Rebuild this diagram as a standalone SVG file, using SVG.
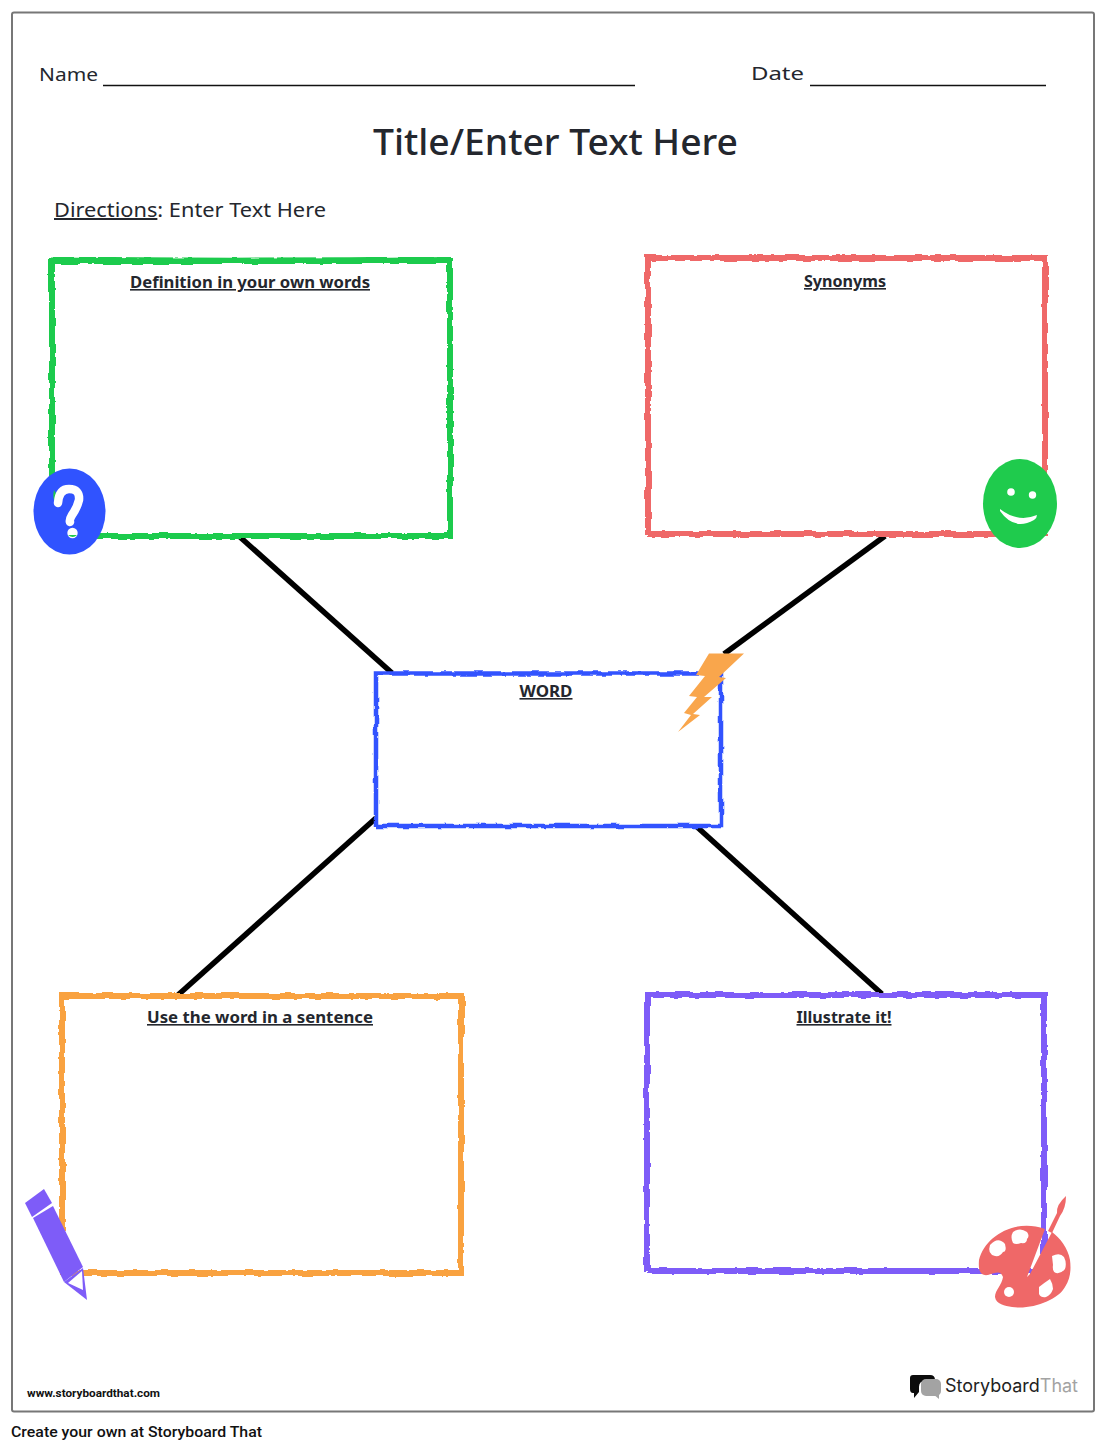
<svg xmlns="http://www.w3.org/2000/svg" width="1107" height="1450" viewBox="0 0 1107 1450">
<defs>
<style>
text{font-family:"Noto Sans","Liberation Sans",sans-serif;fill:#24272e}
.lab{font-size:16px;font-weight:700;text-anchor:middle;text-decoration:underline}
.box{fill:none;filter:url(#rough);stroke-linejoin:miter}
.conn{stroke:#000;stroke-width:5.500;fill:none}
.rule{stroke:#111;stroke-width:1.700}
</style>
<filter id="rough" x="-5%" y="-5%" width="110%" height="110%">
<feTurbulence type="fractalNoise" baseFrequency="0.07" numOctaves="3" seed="4"/>
<feDisplacementMap in="SourceGraphic" scale="4.500" xChannelSelector="R" yChannelSelector="G"/>
</filter>
</defs>
<rect width="1107" height="1450" fill="#fff"/>
<rect id="page" x="12" y="12.500" width="1082" height="1399" rx="2" fill="#fff" stroke="#777" stroke-width="2"/>
<g id="header">
<text x="39" y="81" font-size="18" textLength="59" lengthAdjust="spacingAndGlyphs">Name</text>
<line class="rule" x1="103" y1="85.500" x2="635" y2="85.500"/>
<text x="751" y="80" font-size="18" textLength="53" lengthAdjust="spacingAndGlyphs">Date</text>
<line class="rule" x1="810" y1="85.500" x2="1046" y2="85.500"/>
<text id="title" x="373" y="155" font-size="36" font-weight="500" textLength="365" lengthAdjust="spacingAndGlyphs">Title/Enter Text Here</text>
<text x="54" y="217" font-size="20" textLength="272" lengthAdjust="spacingAndGlyphs"><tspan text-decoration="underline">Directions</tspan>:  Enter Text Here</text>
</g>
<g id="connectors">
<line class="conn" x1="240" y1="537" x2="392" y2="673"/>
<line class="conn" x1="885" y1="536" x2="724" y2="654"/>
<line class="conn" x1="376" y1="818" x2="178" y2="995"/>
<line class="conn" x1="696" y1="826" x2="882" y2="994"/>
</g>
<g id="node-definition">
<path class="box" stroke="#1fcb4d" stroke-width="6" d="M52 538V261H450V536H52"/>
<path class="box" stroke="#1fcb4d" stroke-width="4" d="M52 258.500Q250 261 448 258"/>
<text class="lab" x="250" y="288" textLength="240" lengthAdjust="spacingAndGlyphs">Definition in your own words</text>
</g>
<g id="node-synonyms">
<path class="box" stroke="#ef6868" stroke-width="6" d="M648 535V258H1045V534H648"/>
<text class="lab" x="845" y="287" textLength="82" lengthAdjust="spacingAndGlyphs">Synonyms</text>
</g>
<g id="node-word">
<path class="box" stroke="#3053ff" stroke-width="4.500" d="M376 827V673.500H721V826H376"/>
<text class="lab" x="546" y="697" textLength="53" lengthAdjust="spacingAndGlyphs">WORD</text>
</g>
<g id="node-sentence">
<path class="box" stroke="#f9a241" stroke-width="6" d="M62 1274V996H461V1273H62"/>
<text class="lab" x="260" y="1023" textLength="226" lengthAdjust="spacingAndGlyphs">Use the word in a sentence</text>
</g>
<g id="node-illustrate">
<path class="box" stroke="#7e5cf8" stroke-width="6" d="M647 1272V995H1044V1271H647"/>
<text class="lab" x="844" y="1023" textLength="95" lengthAdjust="spacingAndGlyphs">Illustrate it!</text>
</g>
<g id="icon-question">
<ellipse cx="69.500" cy="511.500" rx="36" ry="43" fill="#3053ff"/>
<path d="M54 490Q52 498 56 505L58 497Z" fill="#1fcb4d"/>
<path d="M58 503Q59 489 69 489Q80 489 79 500Q77 508 72 515Q69 520 70 522" fill="none" stroke="#fff" stroke-width="8.500" stroke-linecap="round" stroke-linejoin="round"/>
<circle cx="72.500" cy="533" r="5.200" fill="#fff"/>
<path d="M68 535H77Q73 539 68 535Z" fill="#1fcb4d"/>
</g>
<g id="icon-smile">
<ellipse cx="1020" cy="503.500" rx="37" ry="44.500" fill="#1fcb4d"/>
<circle cx="1011" cy="492" r="3.800" fill="#fff"/>
<circle cx="1032.500" cy="495" r="3.700" fill="#fff"/>
<path d="M1000 509Q1018 523 1037 515Q1037 518 1034 520Q1014 531 1000 511Z" fill="#fff"/>
</g>
<g id="icon-bolt">
<path d="M709 653.500H744L719 677L726 678L704 697L712 697L693 714L700 715L678 732L691 715L684 713L697 697L689 696L705 676L696 675Z" fill="#f9a64c"/>
</g>
<g id="icon-pencil">
<path d="M25 1203L44 1189L52 1203L32 1217Z" fill="#7e5cf8"/>
<path d="M33 1218L53 1206L83 1267L64 1282Z" fill="#7e5cf8"/>
<path d="M64 1282L83 1268L87 1300Z" fill="#7e5cf8"/>
<path d="M68 1283L82 1271L83 1290Z" fill="#fff"/>
</g>
<g id="icon-palette">
<path d="M1045 1229C1015 1218 985 1236 979 1260C978 1272 981 1276 988 1275C996 1273 1000 1270 1003 1277C1002 1285 995 1290 995 1297C996 1304 1005 1306 1012 1307C1032 1310 1058 1300 1065 1287C1071 1278 1071 1268 1070 1260C1068 1248 1060 1238 1052 1232L1030 1274L1027 1277L1039 1245Z" fill="#ef6868"/>
<path d="M1048 1231L1057 1213Q1056 1205 1066 1196Q1066 1208 1060 1216L1052 1233Z" fill="#ef6868"/>
<path d="M990 1245Q998 1236 1005 1244Q1007 1252 1003 1252Q1000 1257 995 1256Q987 1254 990 1245Z" fill="#fff"/>
<path d="M1013 1232Q1020 1227 1027 1232Q1030 1236 1027 1239Q1027 1244 1021 1243Q1016 1245 1013 1243Q1010 1237 1013 1232Z" fill="#fff"/>
<path d="M1052 1256Q1060 1252 1064 1257Q1067 1263 1065 1269Q1061 1274 1056 1273Q1052 1272 1053 1265Z" fill="#fff"/>
<path d="M1039 1287Q1044 1283 1050 1279Q1053 1284 1053 1289Q1051 1295 1046 1297Q1041 1298 1039 1294Z" fill="#fff"/>
<circle cx="1009" cy="1292" r="5" fill="#fff"/>
</g>
<g id="footer">
<text x="27" y="1397" font-size="11.500" font-weight="700" style="font-family:'Roboto','Liberation Sans',sans-serif;fill:#111" textLength="133" lengthAdjust="spacingAndGlyphs">www.storyboardthat.com</text>
<g id="logo">
<path d="M913 1375H930Q935 1375 935 1380V1381H925Q919 1381 919 1387V1392L914 1398V1393H913Q910 1393 910 1389V1378Q910 1375 913 1375Z" fill="#0c0c0c"/>
<rect x="921" y="1379" width="20" height="17" rx="5" fill="#a3a3a3"/>
<path d="M933 1394L939 1399L939 1394Z" fill="#a3a3a3"/>
</g>
<text x="945" y="1392" font-size="18" style="font-family:'Inter','Liberation Sans',sans-serif;fill:#222" textLength="133" lengthAdjust="spacingAndGlyphs">Storyboard<tspan style="fill:#a3a3a3">That</tspan></text>
<text x="11" y="1437" font-size="15.500" font-weight="500" style="font-family:'Roboto','Liberation Sans',sans-serif;fill:#111" textLength="251" lengthAdjust="spacingAndGlyphs">Create your own at Storyboard That</text>
</g>
</svg>
